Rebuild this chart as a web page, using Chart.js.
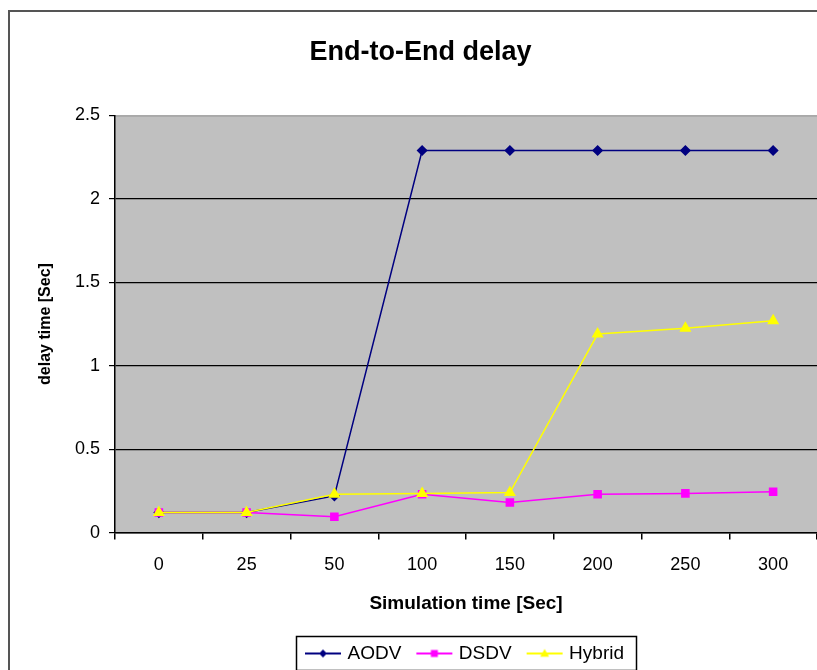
<!DOCTYPE html>
<html>
<head>
<meta charset="utf-8">
<script src="https://cdn.jsdelivr.net/npm/chart.js@4.4.1/dist/chart.umd.min.js"></script>
<style>
  body { margin: 0; background: #fff; }
  #wrap { width: 817px; height: 670px; }
</style>
</head>
<body>
<div id="wrap"><canvas id="mycanvas" width="817" height="670"></canvas></div>
<script>
// simulation time categories
var simTimes = ['0', '25', '50', '100', '150', '200', '250', '300'];
// delay values [Sec]
var aodv   = [0.12, 0.12, 0.22, 2.29, 2.29, 2.29, 2.29, 2.29];
var dsdv   = [0.12, 0.12, 0.095, 0.23, 0.18, 0.23, 0.235, 0.245];
var hybrid = [0.12, 0.12, 0.23, 0.235, 0.24, 1.19, 1.225, 1.27];
var yTicks = [0, 0.5, 1, 1.5, 2, 2.5];

var FONT = "'Liberation Sans', Arial, sans-serif";

// little line+marker images for the legend
function legendIcon(color, style, r) {
	var c = document.createElement('canvas');
	c.width = 38; c.height = 14;
	var g = c.getContext('2d');
	g.strokeStyle = color; g.lineWidth = 2;
	g.beginPath(); g.moveTo(1, 7); g.lineTo(37, 7); g.stroke();
	g.fillStyle = color;
	g.beginPath();
	if (style == 'rectRot') { g.moveTo(19, 7 - r); g.lineTo(19 + r, 7); g.lineTo(19, 7 + r); g.lineTo(19 - r, 7); }
	else if (style == 'rect') { g.rect(19 - r, 7 - r, 2 * r, 2 * r); }
	else { g.moveTo(19, 7 - r); g.lineTo(19 + r, 7 + r * 0.7); g.lineTo(19 - r, 7 + r * 0.7); }
	g.closePath(); g.fill();
	return c;
}

var bgPlugin = {
	id: 'frame',
	beforeDraw: function(chart) {
		var ctx = chart.ctx, a = chart.chartArea;
		ctx.save();
		ctx.fillStyle = '#fff';
		ctx.fillRect(0, 0, chart.width, chart.height);
		ctx.strokeStyle = '#555';
		ctx.lineWidth = 2;
		ctx.strokeRect(9, 11, 1000, 1000);
		ctx.fillStyle = '#c0c0c0';
		ctx.fillRect(a.left, a.top, a.right - a.left, a.bottom - a.top);
		ctx.strokeStyle = '#8c8c8c';
		ctx.lineWidth = 1;
		ctx.beginPath(); ctx.moveTo(a.left, a.top + 0.5); ctx.lineTo(a.right, a.top + 0.5); ctx.stroke();
		ctx.restore();
	},
	afterDraw: function(chart) {
		var boxes = chart.legend.legendHitBoxes;
		if (!boxes || !boxes.length) return;
		var l = Infinity, r = -Infinity, t = Infinity, b = -Infinity;
		boxes.forEach(function(h) {
			l = Math.min(l, h.left); r = Math.max(r, h.left + h.width);
			t = Math.min(t, h.top); b = Math.max(b, h.top + h.height);
		});
		var ctx = chart.ctx;
		ctx.save();
		ctx.strokeStyle = '#000';
		ctx.lineWidth = 1.5;
		ctx.strokeRect(Math.round(l) - 11.5, Math.round(t) - 7.5, Math.round(r - l) + 24, Math.round(b - t) + 15);
		ctx.restore();
	}
};

var chartdata = {
	labels: simTimes,
	datasets: [
		{
			label: 'AODV',
			data: aodv,
			borderColor: '#000080',
			backgroundColor: '#000080',
			borderWidth: 1.5,
			pointStyle: 'rectRot',
			pointRadius: 4.5,
			order: 3,
			legendIcon: legendIcon('#000080', 'rectRot', 4)
		},
		{
			label: 'DSDV',
			data: dsdv,
			borderColor: '#ff00ff',
			backgroundColor: '#ff00ff',
			borderWidth: 1.5,
			pointStyle: 'rect',
			pointRadius: 5,
			order: 2,
			legendIcon: legendIcon('#ff00ff', 'rect', 3.5)
		},
		{
			label: 'Hybrid',
			data: hybrid,
			borderColor: '#ffff00',
			backgroundColor: '#ffff00',
			borderWidth: 1.5,
			pointStyle: 'triangle',
			pointRadius: 5.5,
			order: 1,
			legendIcon: legendIcon('#ffff00', 'triangle', 4.5)
		}
	]
};

var ctx = document.getElementById('mycanvas');

var lineGraph = new Chart(ctx, {
	type: 'line',
	data: chartdata,
	plugins: [bgPlugin],
	options: {
		responsive: false,
		animation: false,
		layout: { autoPadding: false, padding: { left: 24, right: 0, top: 0, bottom: -3 } },
		elements: { line: { tension: 0 } },
		plugins: {
			title: {
				display: true,
				text: 'End-to-End delay',
				color: '#000',
				font: { family: FONT, size: 27, weight: 'bold' },
				padding: { top: 36, bottom: 47 }
			},
			legend: {
				position: 'bottom',
				fullSize: false,
				sort: function(a, b) { return a.datasetIndex - b.datasetIndex; },
				labels: {
					color: '#000',
					font: { family: FONT, size: 19 },
					usePointStyle: true,
					pointStyleWidth: 30,
					padding: 18,
					generateLabels: function(chart) {
						return chart.data.datasets.map(function(ds, i) {
							return {
								text: ds.label,
								pointStyle: ds.legendIcon,
								fillStyle: ds.borderColor,
								strokeStyle: ds.borderColor,
								lineWidth: 0,
								hidden: false,
								datasetIndex: i,
								fontColor: '#000'
							};
						});
					}
				}
			},
			tooltip: { enabled: false }
		},
		scales: {
			x: {
				offset: true,
				border: { color: '#000', width: 1.5 },
				grid: {
					offset: true,
					drawOnChartArea: false,
					drawTicks: true,
					tickLength: 7,
					color: '#000',
					lineWidth: 1.5
				},
				ticks: {
					color: '#000',
					font: { family: FONT, size: 18 },
					padding: 15,
					maxRotation: 0
				},
				title: {
					display: true,
					text: 'Simulation time [Sec]',
					color: '#000',
					font: { family: FONT, size: 19, weight: 'bold' },
					padding: { top: 1, bottom: 11 }
				}
			},
			y: {
				min: 0,
				max: 2.5,
				afterBuildTicks: function(scale) {
					scale.ticks = yTicks.map(function(v) { return { value: v }; });
				},
				afterFit: function(scale) { scale.width = 91; },
				border: { color: '#000', width: 1.5 },
				grid: {
					color: function(c) { return c.tick && c.tick.value === 2.5 ? 'rgba(0,0,0,0)' : '#000'; },
					tickColor: '#000',
					lineWidth: 1.2,
					tickLength: 6,
					drawTicks: true
				},
				ticks: {
					color: '#000',
					font: { family: FONT, size: 18 },
					padding: 9,
					callback: function(v) { return String(v); }
				},
				title: {
					display: true,
					text: 'delay time [Sec]',
					color: '#000',
					font: { family: FONT, size: 16, weight: 'bold' },
					padding: { top: 12, bottom: 0 }
				}
			}
		}
	}
});
</script>
</body>
</html>
